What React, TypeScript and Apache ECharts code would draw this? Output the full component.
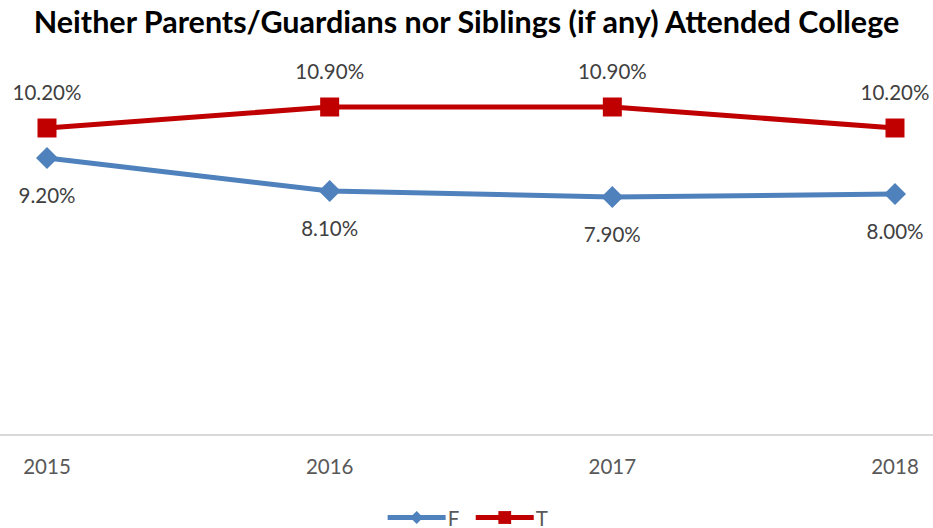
import React, { useEffect, useRef } from "react";
import * as echarts from "echarts";

const categories = ["2015", "2016", "2017", "2018"];
const seriesF = [9.2, 8.1, 7.9, 8.0];
const seriesT = [10.2, 10.9, 10.9, 10.2];
const title = "Neither Parents/Guardians nor Siblings (if any) Attended College";

const FONT = "Lato, 'Open Sans', sans-serif";

export default function App() {
  const ref = useRef<HTMLDivElement>(null);
  useEffect(() => {
    if (!ref.current) return;
    const chart = echarts.init(ref.current, null, { renderer: "svg" });
    const fmt = (p: any) => Number(p.value).toFixed(2) + "%";
    chart.setOption({
      animation: false,
      backgroundColor: "#ffffff",
      textStyle: { fontFamily: FONT },
      title: {
        text: title,
        left: "center",
        top: 0,
        textStyle: { fontFamily: FONT, fontWeight: "bold", fontSize: 30.5, color: "#000000" },
      },
      grid: { left: 47, right: 38, top: 74, height: 360 },
      xAxis: {
        type: "category",
        data: categories,
        boundaryGap: false,
        axisLine: { show: false },
        axisTick: { show: false },
        axisLabel: { color: "#595959", fontSize: 20.5, fontFamily: FONT, margin: 21 },
        splitLine: { show: false },
      },
      yAxis: {
        type: "value",
        min: 0,
        max: 12,
        show: false,
      },
      legend: {
        bottom: -5,
        left: "center",
        itemWidth: 58,
        itemHeight: 16,
        itemGap: 14,
        lineStyle: { width: 5 },
        textStyle: { color: "#595959", fontSize: 20.5, fontFamily: FONT, padding: [0, 0, 0, -3] },
        data: ["F", "T"],
      },
      graphic: [
        {
          type: "line",
          shape: { x1: 0, y1: 435, x2: 933, y2: 435 },
          style: { stroke: "#d9d9d9", lineWidth: 2 },
          z: 0,
        },
      ],
      series: [
        {
          name: "F",
          type: "line",
          data: seriesF,
          symbol: "diamond",
          symbolSize: 22,
          itemStyle: { color: "#4F81BD" },
          lineStyle: { color: "#4F81BD", width: 5 },
          label: {
            show: true,
            position: "bottom",
            distance: 15,
            formatter: fmt,
            color: "#404040",
            fontSize: 20.5,
            fontFamily: FONT,
          },
        },
        {
          name: "T",
          type: "line",
          data: seriesT,
          symbol: "rect",
          symbolSize: 19,
          itemStyle: { color: "#C00000" },
          lineStyle: { color: "#C00000", width: 5 },
          label: {
            show: true,
            position: "top",
            distance: 16,
            formatter: fmt,
            color: "#404040",
            fontSize: 20.5,
            fontFamily: FONT,
          },
        },
      ],
    });
    return () => chart.dispose();
  }, []);
  return <div ref={ref} style={{ width: 933, height: 528, position: "absolute", left: 0, top: 0 }} />;
}
